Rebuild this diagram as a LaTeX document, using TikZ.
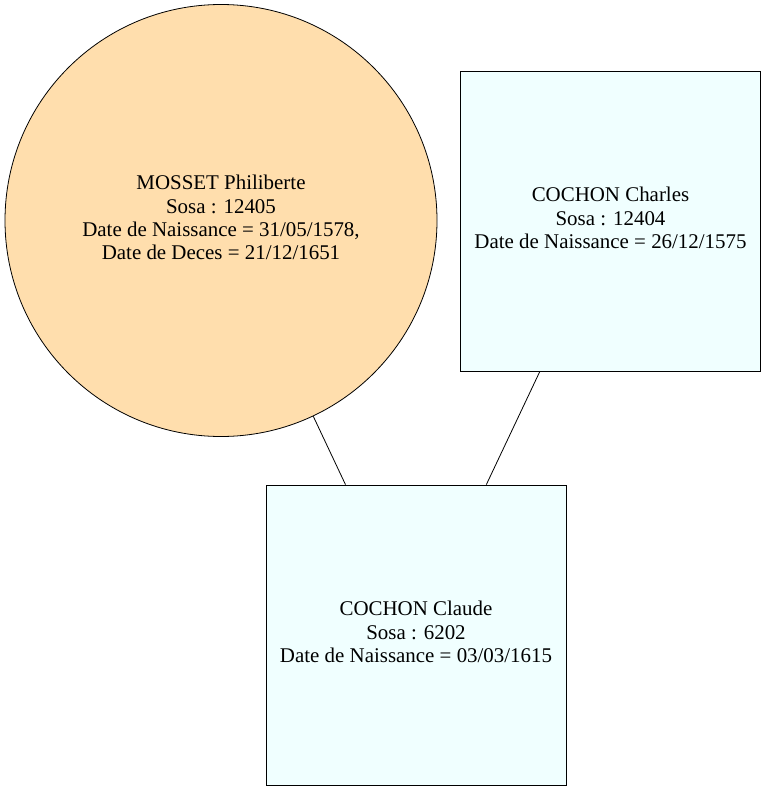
\documentclass[tikz,border=0pt]{standalone}
\usepackage{fontspec}
\setmainfont{Liberation Serif}
\definecolor{navajo}{RGB}{255,222,173}
\definecolor{azurefill}{RGB}{240,255,255}
\begin{document}
\begin{tikzpicture}[x=1bp,y=-1bp,
  person/.style={draw=black, line width=0.8bp, align=center, inner sep=0pt,
    font=\fontsize{21}{23.5}\selectfont},
  malebox/.style={person, rectangle, fill=azurefill, minimum width=300bp, minimum height=300bp},
  femalecircle/.style={person, circle, fill=navajo, minimum size=432bp},
  link/.style={draw=black, line width=0.8bp}]
\useasboundingbox (0,0) rectangle (766,790);
\node[femalecircle] (mosset) at (221,220.5) {MOSSET Philiberte\\Sosa : 12405\\Date de Naissance = 31/05/1578,\\Date de Deces = 21/12/1651\\[-17.5bp]};
\node[malebox] (charles) at (610.5,221) {COCHON Charles\\Sosa : 12404\\Date de Naissance = 26/12/1575\\[-17.5bp]};
\node[malebox] (claude) at (416,635) {COCHON Claude\\Sosa : 6202\\Date de Naissance = 03/03/1615\\[-17.5bp]};
\draw[link] (mosset) -- (claude);
\draw[link] (charles) -- (claude);
\end{tikzpicture}
\end{document}
